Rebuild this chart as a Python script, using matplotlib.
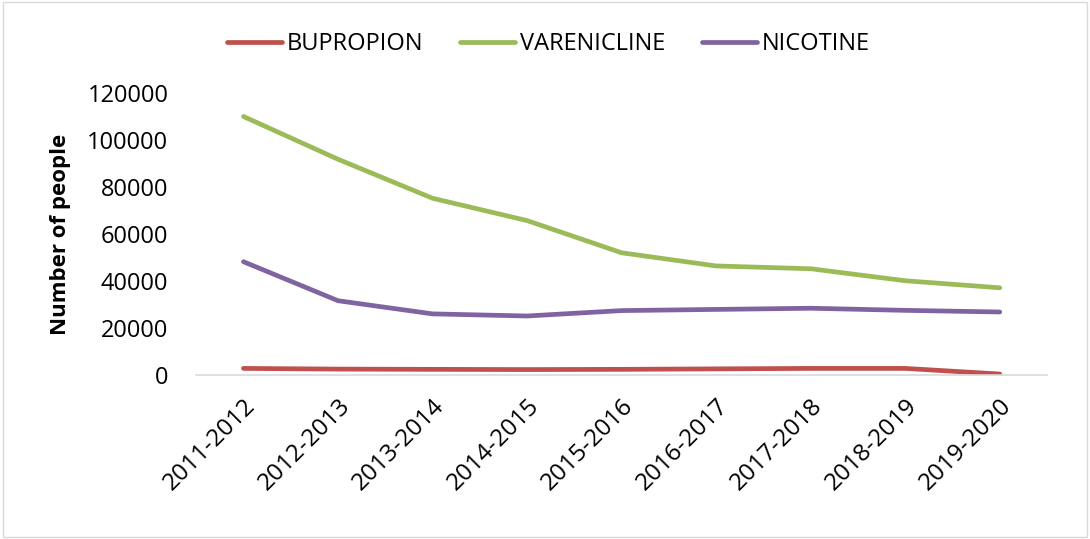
import matplotlib
matplotlib.use("Agg")
import matplotlib.pyplot as plt
from matplotlib.patches import Rectangle

categories = ["2011-2012", "2012-2013", "2013-2014", "2014-2015", "2015-2016",
              "2016-2017", "2017-2018", "2018-2019", "2019-2020"]
bupropion = [2800, 2500, 2400, 2300, 2400, 2600, 2800, 2800, 400]
varenicline = [110000, 91800, 75200, 65700, 52000, 46400, 45200, 40100, 37100]
nicotine = [48200, 31600, 26000, 25100, 27400, 27900, 28400, 27500, 26800]
yticks = [0, 20000, 40000, 60000, 80000, 100000, 120000]

plt.rcParams['font.family'] = ['Open Sans', 'DejaVu Sans']

fig = plt.figure(figsize=(10.9, 5.39), dpi=100)
ax = fig.add_axes([0.180, 0.3043, 0.7806, 0.5232])

x = list(range(len(categories)))
lw = 3.4
ax.plot(x, bupropion, color='#C0504D', lw=lw, solid_capstyle='round', label='BUPROPION')
ax.plot(x, varenicline, color='#9BBB59', lw=lw, solid_capstyle='round', label='VARENICLINE')
ax.plot(x, nicotine, color='#8064A2', lw=lw, solid_capstyle='round', label='NICOTINE')

ax.set_xlim(-0.5, len(categories) - 0.5)
ax.set_ylim(0, 120000)
ax.set_yticks(yticks)
ax.set_yticklabels([str(v) for v in yticks], fontsize=17)
ax.set_xticks(x)
ax.set_xticklabels(categories, fontsize=17.5, rotation=45, ha='right', va='top',
                   rotation_mode='anchor')
ax.tick_params(axis='y', length=0, pad=20)
ax.tick_params(axis='x', length=0, pad=14)
for s in ['top', 'right', 'left']:
    ax.spines[s].set_visible(False)
ax.spines['bottom'].set_color('#D9D9D9')
ax.spines['bottom'].set_linewidth(1.2)
ax.set_ylabel('Number of people', fontsize=16, fontweight='bold', labelpad=12)

fig.legend(loc='center', bbox_to_anchor=(0.503, 0.918), ncol=3, frameon=False,
           fontsize=17, handlelength=2.33, columnspacing=1.55, handletextpad=0.2)

fig.patches.append(Rectangle((0.003, 0.003), 0.994, 0.994, transform=fig.transFigure,
                             fill=False, edgecolor='#D9D9D9', lw=1))

fig.savefig('out.png', dpi=100)
